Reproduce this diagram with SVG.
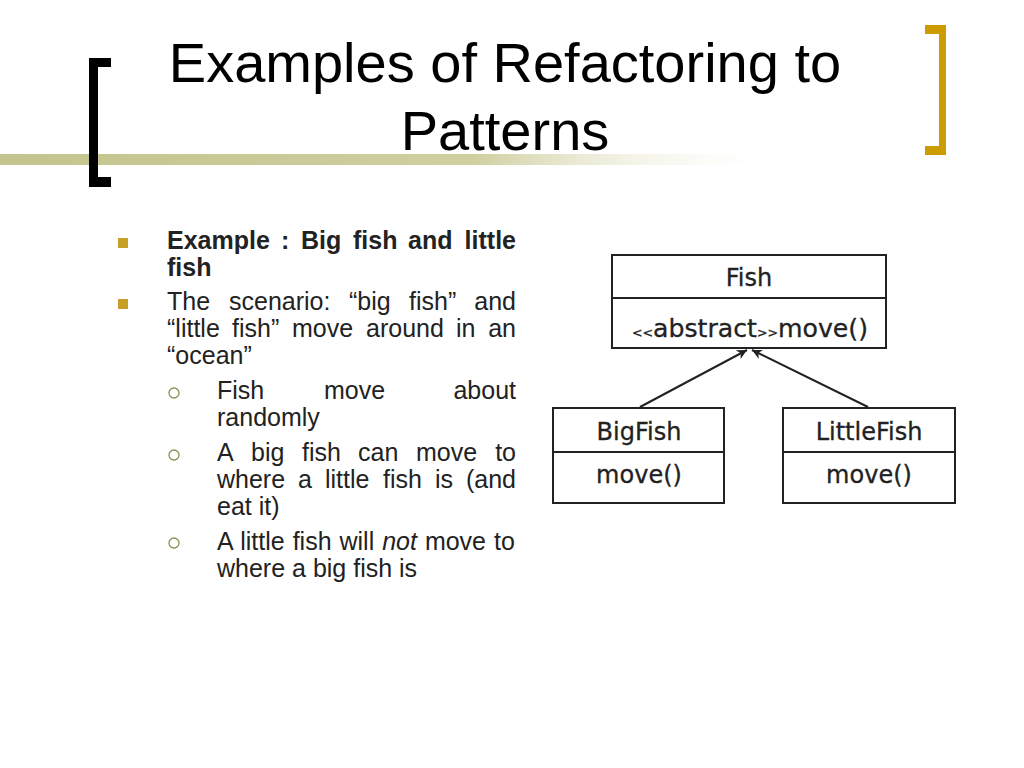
<svg xmlns="http://www.w3.org/2000/svg" width="1024" height="768" viewBox="0 0 1024 768">
<defs>
<linearGradient id="bar" x1="0" y1="0" x2="1" y2="0">
<stop offset="0" stop-color="#c4c48e"/>
<stop offset="0.6" stop-color="#cfcfa0"/>
<stop offset="1" stop-color="#ffffff" stop-opacity="0"/>
</linearGradient>
<marker id="arr" viewBox="0 0 10 10" refX="10" refY="5" markerWidth="10" markerHeight="10" markerUnits="userSpaceOnUse" orient="auto">
<path d="M0,0 L10,5 L0,10 L3,5 z" fill="#222"/>
</marker>
<style>
.title{font-family:"Liberation Sans",Arial,sans-serif;font-size:56px;fill:#000;text-anchor:middle}
.body{font-family:"Liberation Sans",Arial,sans-serif;font-size:25px;fill:#222}
.b{font-weight:bold}
.uml{font-family:"DejaVu Sans",Verdana,sans-serif;font-size:24px;fill:#222;stroke:#222;stroke-width:0.3;text-anchor:middle}
.sm{font-size:12px}
.box{fill:#fff;stroke:#222;stroke-width:2}
.sq{fill:#c8a028}
.ci{fill:none;stroke:#8f8f55;stroke-width:1.3}
.conn{stroke:#222;stroke-width:2;fill:none}
</style>
</defs>
<rect width="1024" height="768" fill="#fff"/>
<rect x="0" y="154" width="790" height="11" fill="url(#bar)"/>
<path d="M89,58 H111 V67 H98 V177 H111 V187 H89 Z" fill="#000"/>
<path d="M925,25 H946 V155 H925 V146 H939 V34 H925 Z" fill="#cc9c00"/>
<text class="title" x="505" y="82">Examples of Refactoring to</text>
<text class="title" x="505" y="150">Patterns</text>

<g id="bullets">
<rect class="sq" x="118" y="238" width="10" height="10"/>
<rect class="sq" x="118" y="299" width="10" height="10"/>
<circle class="ci" cx="174" cy="393" r="5"/>
<circle class="ci" cx="174" cy="455" r="5"/>
<circle class="ci" cx="174" cy="543" r="5"/>
</g>
<g id="text" class="body">
<text class="b" y="249"><tspan x="167">Example</tspan><tspan x="281">:</tspan><tspan x="301">Big</tspan><tspan x="353">fish</tspan><tspan x="408">and</tspan><tspan x="516" text-anchor="end">little</tspan></text>
<text class="b" x="167" y="276">fish</text>
<text y="310"><tspan x="167">The</tspan><tspan x="229">scenario:</tspan><tspan x="349">“big</tspan><tspan x="409">fish”</tspan><tspan x="516" text-anchor="end">and</tspan></text>
<text y="337"><tspan x="167">“little</tspan><tspan x="232">fish”</tspan><tspan x="292">move</tspan><tspan x="366">around</tspan><tspan x="456">in</tspan><tspan x="516" text-anchor="end">an</tspan></text>
<text x="167" y="364">“ocean”</text>
<text y="399"><tspan x="217">Fish</tspan><tspan x="324">move</tspan><tspan x="516" text-anchor="end">about</tspan></text>
<text x="217" y="426">randomly</text>
<text y="461"><tspan x="217">A</tspan><tspan x="251">big</tspan><tspan x="302">fish</tspan><tspan x="358">can</tspan><tspan x="416">move</tspan><tspan x="516" text-anchor="end">to</tspan></text>
<text y="488"><tspan x="217">where</tspan><tspan x="298">a</tspan><tspan x="325">little</tspan><tspan x="383">fish</tspan><tspan x="435">is</tspan><tspan x="516" text-anchor="end">(and</tspan></text>
<text x="217" y="515">eat it)</text>
<text x="217" y="550" word-spacing="1">A little fish will <tspan font-style="italic">not</tspan> move to</text>
<text x="217" y="577">where a big fish is</text>
</g>

<g id="connectors">
<line class="conn" x1="640" y1="407" x2="747" y2="350" marker-end="url(#arr)"/>
<line class="conn" x1="868" y1="407" x2="752" y2="350" marker-end="url(#arr)"/>
</g>
<g id="Fish">
<rect class="box" x="612" y="255" width="274" height="93"/>
<line class="conn" x1="612" y1="298" x2="886" y2="298"/>
<text class="uml" x="749" y="286">Fish</text>
<text class="uml" x="750" y="337" textLength="236" lengthAdjust="spacingAndGlyphs"><tspan class="sm">&lt;&lt;</tspan>abstract<tspan class="sm">&gt;&gt;</tspan>move()</text>
</g>
<g id="BigFish">
<rect class="box" x="553" y="408" width="171" height="95"/>
<line class="conn" x1="553" y1="452" x2="724" y2="452"/>
<text class="uml" x="639" y="440">BigFish</text>
<text class="uml" x="639" y="483">move()</text>
</g>
<g id="LittleFish">
<rect class="box" x="783" y="408" width="172" height="95"/>
<line class="conn" x1="783" y1="452" x2="955" y2="452"/>
<text class="uml" x="869" y="440">LittleFish</text>
<text class="uml" x="869" y="483">move()</text>
</g>
</svg>
